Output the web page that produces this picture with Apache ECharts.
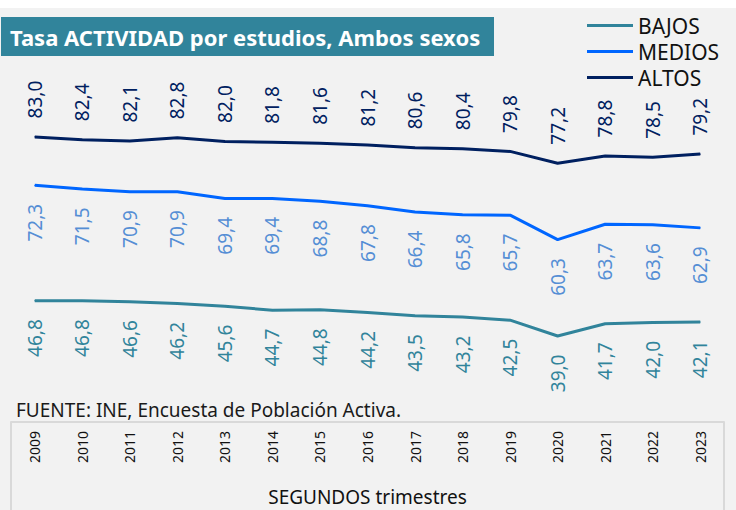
<!DOCTYPE html>
<html>
<head>
<meta charset="utf-8">
<script src="https://cdn.jsdelivr.net/npm/echarts@6/dist/echarts.min.js"></script>
<style>html,body{margin:0;padding:0;background:#fff}#c{width:736px;height:510px}</style>
</head>
<body>
<div id="c"></div>
<script>
const years = ['2009','2010','2011','2012','2013','2014','2015','2016','2017','2018','2019','2020','2021','2022','2023'];
const bajos = [46.8, 46.8, 46.6, 46.2, 45.6, 44.7, 44.8, 44.2, 43.5, 43.2, 42.5, 39.0, 41.7, 42.0, 42.1];
const medios = [72.3, 71.5, 70.9, 70.9, 69.4, 69.4, 68.8, 67.8, 66.4, 65.8, 65.7, 60.3, 63.7, 63.6, 62.9];
const altos = [83.0, 82.4, 82.1, 82.8, 82.0, 81.8, 81.6, 81.2, 80.6, 80.4, 79.8, 77.2, 78.8, 78.5, 79.2];

const FONT = 'Noto Sans';
const fmt = p => p.value.toFixed(1).replace('.', ',');

function mkSeries(name, data, color, labelColor, above) {
  return {
    name, type: 'line', data, symbol: 'circle', symbolSize: 1, showSymbol: true,
    xAxisIndex: 0, yAxisIndex: 0,
    lineStyle: { color, width: 3 },
    itemStyle: { color },
    label: {
      show: true, position: above ? 'top' : 'bottom', distance: 18,
      rotate: 90, align: above ? 'left' : 'right', verticalAlign: 'middle',
      color: labelColor, fontFamily: FONT, fontSize: 19, formatter: fmt
    },
    emphasis: { disabled: true }
  };
}

const chart = echarts.init(document.getElementById('c'), null, { renderer: 'svg' });
chart.setOption({
  backgroundColor: '#f2f2f2',
  animation: false,
  textStyle: { fontFamily: FONT },
  grid: [
    { left: 11, right: 12, top: 60, bottom: 88 },
    { left: 11, right: 12, top: 421, height: 1 }
  ],
  legend: {
    orient: 'vertical', left: 582, top: 10, itemWidth: 46, itemHeight: 3, itemGap: 5,
    icon: 'rect',
    textStyle: { fontFamily: FONT, fontSize: 21, color: '#111' },
    data: ['BAJOS', 'MEDIOS', 'ALTOS']
  },
  xAxis: [
    {
      type: 'category', data: years, boundaryGap: true, gridIndex: 0,
      axisLine: { lineStyle: { color: '#d9d9d9', width: 2 } },
      axisTick: { show: false },
      axisLabel: { show: false }
    },
    {
      type: 'category', data: years, boundaryGap: true, gridIndex: 1,
      axisLine: { show: false },
      axisTick: { show: false },
      axisLabel: { rotate: 90, margin: 9, fontFamily: FONT, fontSize: 14, color: '#111', interval: 0 }
    }
  ],
  yAxis: [
    { type: 'value', min: 20, max: 100, show: false, splitLine: { show: false }, gridIndex: 0 },
    { type: 'value', min: 0, max: 1, show: false, splitLine: { show: false }, gridIndex: 1 }
  ],
  graphic: [
    { type: 'rect', shape: { x: 0, y: 0, width: 736, height: 8 }, style: { fill: '#ffffff' } },
    { type: 'rect', shape: { x: 1, y: 17, width: 493, height: 39 }, style: { fill: '#31849b' } },
    { type: 'text', x: 10, y: 37, style: { text: 'Tasa ACTIVIDAD por estudios, Ambos sexos', fill: '#ffffff', font: 'bold 22px "Noto Sans"', verticalAlign: 'middle' } },
    { type: 'text', x: 16, y: 410, style: { text: 'FUENTE: INE, Encuesta de Población Activa.', fill: '#1a1a1a', font: '19px "Noto Sans"', verticalAlign: 'middle' } },
    { type: 'text', x: 367.5, y: 497, style: { text: 'SEGUNDOS trimestres', fill: '#111', font: '19px "Noto Sans"', align: 'center', verticalAlign: 'middle' } },
    { type: 'line', shape: { x1: 11, y1: 422, x2: 11, y2: 510 }, style: { stroke: '#d9d9d9', lineWidth: 2 } },
    { type: 'line', shape: { x1: 724, y1: 422, x2: 724, y2: 510 }, style: { stroke: '#d9d9d9', lineWidth: 2 } }
  ],
  series: [
    mkSeries('BAJOS', bajos, '#31849b', '#31849b', false),
    mkSeries('MEDIOS', medios, '#0066ff', '#558ed5', false),
    mkSeries('ALTOS', altos, '#002060', '#002060', true)
  ]
});
</script>
</body>
</html>
